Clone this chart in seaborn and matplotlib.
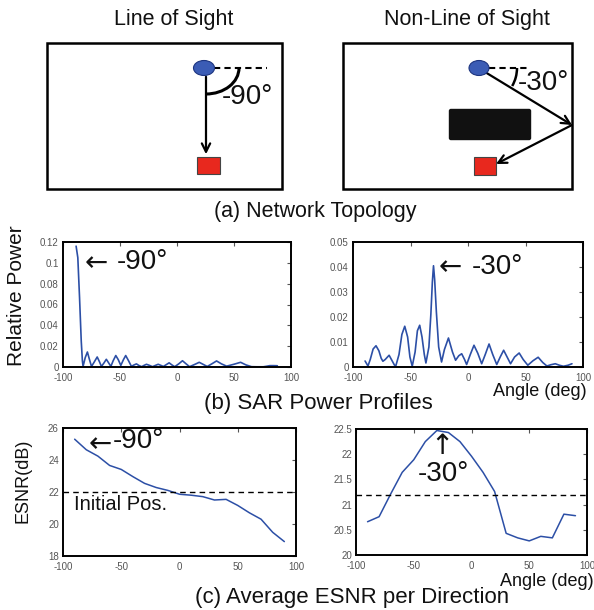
import matplotlib
matplotlib.use("Agg")
import matplotlib.pyplot as plt
from matplotlib.patches import Rectangle, Ellipse, Arc, FancyBboxPatch
import seaborn as sns
import pandas as pd

# ---------------- data ----------------
sar_los_angle = [-88.5, -87, -85.5, -84, -83, -82.4, -80.5, -78.6, -77, -75, -72.5, -70, -68, -66.3,
                 -64, -62, -60, -58, -56, -53.7, -51.5, -49.3, -47, -45, -42.5, -40, -38, -35.6,
                 -33.5, -31, -29, -26.8, -24, -21.5, -19, -16.5, -14, -12, -9.5, -6.9, -4.5, -2,
                 1.5, 4.8, 8, 11, 15, 19.5, 23, 26.5, 30.5, 34.7, 39, 43.5, 49.5, 55.8, 60.5, 65.4,
                 70, 75.7, 78.5, 81.5, 84.5, 88]
sar_los_power = [0.116, 0.105, 0.067, 0.025, 0.006, 0.0006, 0.009, 0.0144, 0.008, 0.0005, 0.005, 0.0096,
                 0.005, 0.0005, 0.004, 0.0074, 0.004, 0.0006, 0.006, 0.011, 0.007, 0.0015, 0.007, 0.011,
                 0.006, 0.0006, 0.0018, 0.003, 0.0015, 0.0003, 0.0015, 0.0026, 0.0015, 0.0003, 0.0015,
                 0.0026, 0.0015, 0.0005, 0.0022, 0.004, 0.002, 0.0003, 0.003, 0.006, 0.003, 0.0003,
                 0.0022, 0.0045, 0.0025, 0.0005, 0.003, 0.0058, 0.003, 0.0008, 0.0025, 0.0045, 0.002,
                 0.0003, 0.0002, 0.0002, 0.0007, 0.0013, 0.0013, 0.0012]

sar_nlos_angle = [-89.5, -87, -85, -82.5, -80, -77.5, -75.5, -74, -72, -68.6, -66, -64, -62.8, -60,
                  -57.5, -55, -52.5, -50.5, -48.5, -46, -44, -42, -40, -38, -36.6, -34, -32.3, -31,
                  -30, -29, -27.5, -25.5, -23, -20.5, -17, -13.5, -10.8, -8, -5.5, -3, -1.2, 2, 5.2,
                  8.5, 11.9, 15, 18.3, 21.5, 25, 28, 31, 34, 37, 40.5, 44.5, 48, 52, 56.5, 61, 65,
                  68.6, 72, 75.9, 79.5, 83, 87, 90.4]
sar_nlos_power = [0.0024, 0.0004, 0.003, 0.0072, 0.0085, 0.0065, 0.0035, 0.0023, 0.003, 0.0047, 0.0025,
                  0.0008, 0.0004, 0.005, 0.013, 0.0163, 0.012, 0.004, 0.0003, 0.006, 0.0145, 0.0167,
                  0.012, 0.005, 0.0016, 0.008, 0.021, 0.034, 0.0405, 0.035, 0.022, 0.008, 0.002, 0.007,
                  0.0116, 0.006, 0.0027, 0.0045, 0.0053, 0.003, 0.001, 0.005, 0.0087, 0.0055, 0.0013,
                  0.005, 0.0092, 0.005, 0.001, 0.004, 0.0067, 0.004, 0.0013, 0.004, 0.0056, 0.003,
                  0.0007, 0.0025, 0.0039, 0.0018, 0.0004, 0.0009, 0.0013, 0.0007, 0.0003, 0.0007, 0.0013]

esnr_angle = [-90, -80, -70, -60, -50, -40, -30, -20, -10, 0, 10, 20, 30, 40, 50, 60, 70, 80, 90]
esnr_los = [25.3, 24.64, 24.24, 23.66, 23.41, 22.96, 22.54, 22.28, 22.1, 21.86, 21.8, 21.71, 21.5,
            21.54, 21.16, 20.7, 20.3, 19.48, 18.9]
esnr_nlos = [20.66, 20.76, 21.21, 21.64, 21.89, 22.25, 22.47, 22.43, 22.25, 21.96, 21.64, 21.26,
             20.43, 20.34, 20.28, 20.37, 20.34, 20.81, 20.78]
esnr_initial_los = 22.0
esnr_initial_nlos = 21.2

x_ticks = [-100, -50, 0, 50, 100]
sar_los_yticks = [0, 0.02, 0.04, 0.06, 0.08, 0.1, 0.12]
sar_los_ylabels = ["0", "0.02", "0.04", "0.06", "0.08", "0.1", "0.12"]
sar_nlos_yticks = [0, 0.01, 0.02, 0.03, 0.04, 0.05]
sar_nlos_ylabels = ["0", "0.01", "0.02", "0.03", "0.04", "0.05"]
esnr_los_yticks = [18, 20, 22, 24, 26]
esnr_nlos_yticks = [20, 20.5, 21, 21.5, 22, 22.5]
esnr_nlos_ylabels = ["20", "20.5", "21", "21.5", "22", "22.5"]

# ---------------- style ----------------
sns.set_theme(style="white")
plt.rcParams['font.family'] = ['Liberation Sans', 'DejaVu Sans']
plt.rcParams['axes.edgecolor'] = 'black'
plt.rcParams['axes.linewidth'] = 1.4

LINE = '#2c4fa6'
W, H = 594, 610
fig = plt.figure(figsize=(W / 100, H / 100), dpi=100)
fig.patch.set_facecolor('white')


def px_axes(x0, y0, x1, y1):
    return fig.add_axes([x0 / W, (H - y1) / H, (x1 - x0) / W, (y1 - y0) / H])


def style_axes(ax, yticks, ylabels, ylim):
    ax.set_xlim(-100, 100)
    ax.set_ylim(*ylim)
    ax.set_xticks(x_ticks)
    ax.set_xticklabels([str(t) for t in x_ticks])
    ax.set_yticks(yticks)
    ax.set_yticklabels(ylabels)
    ax.tick_params(direction='in', length=3, width=0.8, top=True, right=True,
                   labelsize=7, labelcolor='#555555', colors='#555555')
    ax.tick_params(axis='x', pad=4)
    ax.tick_params(axis='y', pad=3)
    ax.set_xlabel('')
    ax.set_ylabel('')
    for s in ax.spines.values():
        s.set_color('black')
        s.set_linewidth(1.4)


df_sl = pd.DataFrame({'angle': sar_los_angle, 'power': sar_los_power})
df_sn = pd.DataFrame({'angle': sar_nlos_angle, 'power': sar_nlos_power})
df_e = pd.DataFrame({'angle': esnr_angle, 'los': esnr_los, 'nlos': esnr_nlos})

ax1 = px_axes(63, 242, 291, 367)
sns.lineplot(data=df_sl, x='angle', y='power', ax=ax1, color=LINE, lw=1.2, estimator=None, sort=False)
style_axes(ax1, sar_los_yticks, sar_los_ylabels, (0, 0.12))

ax2 = px_axes(353, 242, 583, 367)
sns.lineplot(data=df_sn, x='angle', y='power', ax=ax2, color=LINE, lw=1.2, estimator=None, sort=False)
style_axes(ax2, sar_nlos_yticks, sar_nlos_ylabels, (0, 0.05))

ax3 = px_axes(63, 428, 296, 556)
sns.lineplot(data=df_e, x='angle', y='los', ax=ax3, color=LINE, lw=1.1, estimator=None, sort=False)
ax3.axhline(esnr_initial_los, color='black', lw=1.0, ls=(0, (4, 3)))
style_axes(ax3, esnr_los_yticks, [str(t) for t in esnr_los_yticks], (18, 26))

ax4 = px_axes(356, 429, 587, 555)
sns.lineplot(data=df_e, x='angle', y='nlos', ax=ax4, color=LINE, lw=1.1, estimator=None, sort=False)
ax4.axhline(esnr_initial_nlos, color='black', lw=1.0, ls=(0, (4, 3)))
style_axes(ax4, esnr_nlos_yticks, esnr_nlos_ylabels, (20, 22.5))

# ---------------- overlay (pixel coordinates, y downward) ----------------
ov = fig.add_axes([0, 0, 1, 1], zorder=5)
ov.set_xlim(0, W)
ov.set_ylim(H, 0)
ov.axis('off')
ov.patch.set_alpha(0)

T = dict(ha='center', va='center', color='#111111')
ov.text(174, 20, 'Line of Sight', fontsize=15.5, **T)
ov.text(467, 20, 'Non-Line of Sight', fontsize=15.5, **T)
ov.text(315, 211, '(a) Network Topology', fontsize=15.5, **T)
ov.text(318, 404, '(b) SAR Power Profiles', fontsize=16, **T)
ov.text(352, 598, '(c) Average ESNR per Direction', fontsize=16, **T)
ov.text(540, 392, 'Angle (deg)', fontsize=13, **T)
ov.text(547, 581, 'Angle (deg)', fontsize=13, **T)
ov.text(17, 296, 'Relative Power', fontsize=15, rotation=90, **T)
ov.text(23, 481, 'ESNR(dB)', fontsize=13, rotation=90, **T)

ARW = dict(ha='center', va='center', color='#111111', family=['DejaVu Sans'])
ov.text(96, 263, '\u2190', fontsize=20, **ARW)
ov.text(142, 262, '-90°', fontsize=20, **T)
ov.text(450, 267, '\u2190', fontsize=20, **ARW)
ov.text(497, 267, '-30°', fontsize=20, **T)
ov.text(100, 444, '\u2190', fontsize=20, **ARW)
ov.text(138, 441, '-90°', fontsize=20, **T)
ov.text(121, 505, 'Initial Pos.', fontsize=14.5, **T)
ov.text(442, 446, '\u2191', fontsize=20, **ARW)
ov.text(443, 474, '-30°', fontsize=20, **T)

# schematic: line of sight
ov.add_patch(Rectangle((47, 43), 235, 146, fill=False, ec='black', lw=1.8))
ov.plot([214, 267], [68, 68], color='black', lw=1.5, ls=(0, (3, 2)))
ov.annotate('', xy=(206, 157), xytext=(206, 74),
            arrowprops=dict(arrowstyle='->,head_length=0.5,head_width=0.25', lw=1.6, color='black'))
ov.add_patch(Arc((206, 68), 66, 52, theta1=0, theta2=90, color='black', lw=2.2))
ov.add_patch(Ellipse((204, 68), 21, 15, fc='#3b5cb5', ec='#1d3580', lw=0.8, zorder=6))
ov.add_patch(Rectangle((197, 157), 23, 17, fc='#e8281e', ec='#444444', lw=0.8, zorder=6))
ov.text(247, 97, '-90°', fontsize=20, **T)

# schematic: non-line of sight
ov.add_patch(Rectangle((343, 43), 229, 146, fill=False, ec='black', lw=1.8))
ov.plot([489, 527], [68, 68], color='black', lw=1.5, ls=(0, (3, 2)))
ov.add_patch(Arc((481, 68), 72, 72, theta1=0, theta2=30, color='black', lw=1.8))
ov.annotate('', xy=(572, 125), xytext=(485, 72),
            arrowprops=dict(arrowstyle='->,head_length=0.5,head_width=0.25', lw=1.6, color='black',
                            shrinkA=0, shrinkB=0))
ov.annotate('', xy=(496, 164), xytext=(572, 125),
            arrowprops=dict(arrowstyle='->,head_length=0.5,head_width=0.25', lw=1.6, color='black',
                            shrinkA=0, shrinkB=0))
ov.add_patch(FancyBboxPatch((451, 111), 78, 27, boxstyle='round,pad=1.5', fc='#111111', ec='#111111'))
ov.add_patch(Ellipse((479, 68), 20, 15, fc='#3b5cb5', ec='#1d3580', lw=0.8, zorder=6))
ov.add_patch(Rectangle((474, 157), 22, 18, fc='#e8281e', ec='#444444', lw=0.8, zorder=6))
ov.text(543, 83, '-30°', fontsize=20, **T)

fig.savefig('out.png', dpi=100, facecolor='white')
